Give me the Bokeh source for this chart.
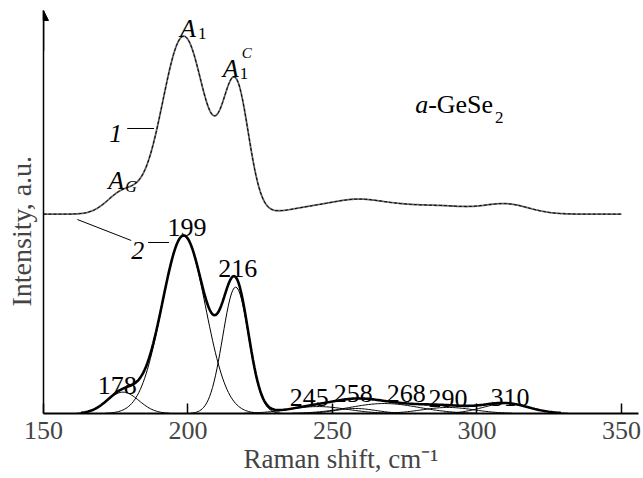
import numpy as np
from bokeh.plotting import figure
from bokeh.models import (Range1d, Label, Arrow, NormalHead, FixedTicker,
                          ColumnDataSource, Title)
from bokeh.embed import file_html
from bokeh.resources import INLINE
from bokeh.core.properties import value

# ---------------- data ----------------
shift = np.arange(150.0, 350.5, 0.5)            # Raman shift grid, cm^-1
peak_labels = ["178", "199", "216", "245", "258", "268", "290", "310"]
peak_centers = [177.5, 198.5, 216.5, 245, 258, 268, 290, 310]
peak_heights = [12, 100, 71, 3.9, 2.8, 5.6, 3.4, 5.6]   # a.u.
peak_widths = [5.5, 7.5, 4.5, 10, 7, 12, 9, 8]          # Gaussian sigma, cm^-1
spectrum_offset = 112                                   # curve 1 is shifted up
x_ticks = [150, 200, 250, 300, 350]

# ---------------- layout constants ----------------
FONT = "Liberation Serif"
W, H = 641, 478
X0, X1 = 150, 355.9
Y0, Y1 = 0, 226.4


def px2x(px):
    return 150 + (px - 41) / 2.9


def px2y(py):
    return (413 - py) / 1.78


p = figure(width=W, height=H, output_backend="svg", toolbar_location=None,
           x_range=Range1d(X0, X1), y_range=Range1d(Y0, Y1),
           min_border_left=41, min_border_right=3, min_border_top=10,
           min_border_bottom=65)
p.outline_line_color = None
p.grid.visible = False
p.background_fill_color = "white"
p.border_fill_color = "white"

# components
comps = []
for c, h, s in zip(peak_centers, peak_heights, peak_widths):
    g = h * np.exp(-(shift - c) ** 2 / (2 * s * s))
    comps.append(g)
total = np.sum(comps, axis=0)

for g in comps:
    gg = np.where(g > 0.15, g, np.nan)
    p.line(shift, gg, line_color="black", line_width=1.0)

tot_plot = np.where(total > 0.3, total, np.nan)
p.line(shift, tot_plot, line_color="black", line_width=2.6)

# curve 1 (experimental spectrum, shifted)
p.line(shift, total + spectrum_offset, line_color="#6a6a6a", line_width=1.8)
p.line(shift, total + spectrum_offset, line_color="black", line_width=1.0,
       line_dash="3 2")

# peak labels
lab_x = [175.5, 199.7, 217.2, 242.0, 257.2, 275.5, 290.0, 311.4]
lab_y = [px2y(385), px2y(227), px2y(268), px2y(397), px2y(393), px2y(393),
         px2y(398), px2y(397)]
src = ColumnDataSource(dict(x=lab_x, y=lab_y, t=peak_labels))
p.text(x="x", y="y", text="t", source=src, text_font=value(FONT),
       text_font_size="26px", text_align="center", text_baseline="alphabetic",
       text_color="black")


def lab(text, px, py, size="26px", style="normal", align="left"):
    p.add_layout(Label(x=px2x(px), y=px2y(py), text=text, text_font=FONT,
                       text_font_size=size, text_font_style=style,
                       text_align=align, text_baseline="alphabetic",
                       text_color="black"))


# A1
lab("A", 178, 28, style="italic")
lab("1", 196, 33, size="17px")
# A1^C
lab("A", 221, 68, style="italic")
lab("1", 238, 73, size="17px")
lab("C", 240, 53, size="15px", style="italic")
# AG
lab("A", 106, 180, style="italic")
lab("G", 123, 186, size="16px", style="italic")
# curve numbers
lab("1", 107, 133, style="italic")
lab("2", 129, 250, style="italic")
# sample name
lab("a", 414, 104, style="italic")
lab("-GeSe", 427, 104)
lab("2", 494, 117, size="17px")

# leader lines
p.segment(x0=[px2x(125), px2x(146), px2x(75)], y0=[px2y(128), px2y(242), px2y(219)],
          x1=[px2x(152), px2x(167), px2x(129)], y1=[px2y(128), px2y(242), px2y(240)],
          line_color="black", line_width=1.0)

# axes
xa = p.xaxis[0]
xa.ticker = FixedTicker(ticks=x_ticks)
xa.minor_tick_line_color = None
xa.major_tick_in = 10
xa.major_tick_out = 0
xa.major_tick_line_width = 1.5
xa.axis_line_width = 2
xa.major_label_text_font = FONT
xa.major_label_text_font_size = "26px"
xa.major_label_standoff = 8

ya = p.yaxis[0]
ya.ticker = FixedTicker(ticks=[])
ya.minor_tick_line_color = None
ya.major_tick_in = 0
ya.major_tick_out = 0
ya.axis_line_width = 1.5
ya.major_label_standoff = 0

p.add_layout(Title(text="Raman shift, cm\u207b\u00b9", align="center",
                   vertical_align="top", text_font=FONT, text_font_size="27px",
                   text_font_style="normal", standoff=4), "below")

p.add_layout(Title(text="Intensity, a.u.", align="left", offset=107,
                   vertical_align="top", text_font=FONT, text_font_size="28px",
                   text_font_style="normal", standoff=10), "left")

p.add_layout(Arrow(end=NormalHead(size=10, fill_color="black", line_color="black"),
                   x_start=150, y_start=Y1 * 0.9, x_end=150, y_end=Y1,
                   line_color="black", line_width=1.5))

open("out.html", "w").write(file_html(p, INLINE))
